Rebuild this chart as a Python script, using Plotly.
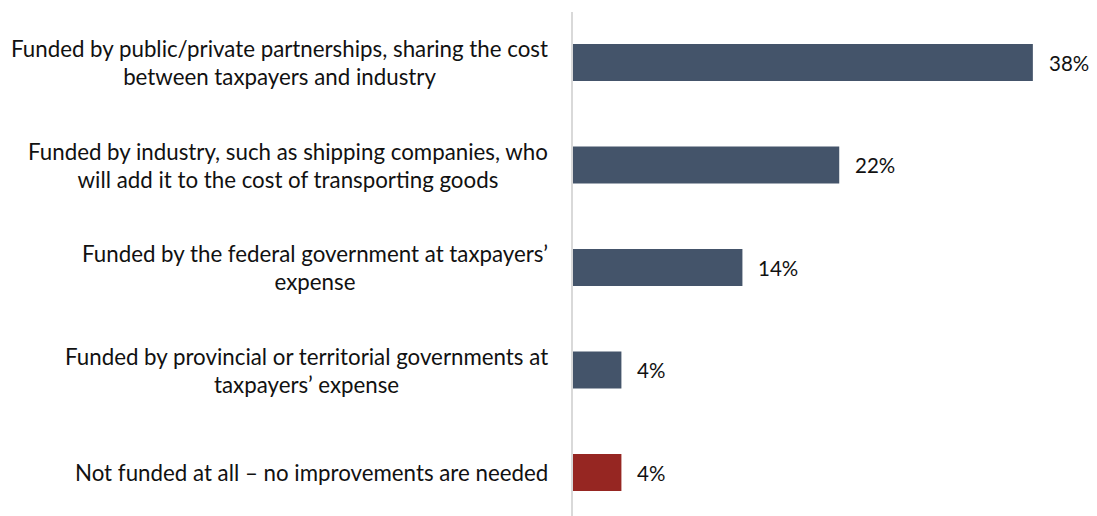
import plotly.graph_objects as go

# Survey options (top to bottom) and share of respondents (%)
categories = [
    "Funded by public/private partnerships, sharing the cost<br>between taxpayers and industry",
    "Funded by industry, such as shipping companies, who<br>will add it to the cost of transporting goods",
    "Funded by the federal government at taxpayers’<br>expense",
    "Funded by provincial or territorial governments at<br>taxpayers’ expense",
    "Not funded at all – no improvements are needed",
]
values = [38, 22, 14, 4, 4]
bar_colors = ["#44546a", "#44546a", "#44546a", "#44546a", "#962622"]

FONT = "Lato"
TEXT_COLOR = "#111111"
LABEL_PX = 22.3
VALUE_PX = 20.5
positions = list(range(len(categories)))

fig = go.Figure(
    go.Bar(
        x=values,
        y=positions,
        orientation="h",
        marker=dict(color=bar_colors, line=dict(width=0)),
        width=0.36,
        hoverinfo="skip",
    )
)

# Category labels: centred lines, right edge just left of the axis
for pos, label in zip(positions, categories):
    fig.add_annotation(
        x=0, y=pos, xref="x", yref="y",
        text=f'<span style="font-size:{LABEL_PX}px">{label}</span>',
        showarrow=False, xanchor="right", yanchor="middle",
        align="center", xshift=-23,
        font=dict(family=FONT, size=21.5, color=TEXT_COLOR),
    )

# Value labels next to each bar
for pos, val in zip(positions, values):
    fig.add_annotation(
        x=val, y=pos, xref="x", yref="y",
        text=f"{val}%",
        showarrow=False, xanchor="left", yanchor="middle",
        xshift=14,
        font=dict(family=FONT, size=VALUE_PX, color=TEXT_COLOR),
    )

fig.update_layout(
    width=1097, height=516,
    margin=dict(l=573, r=0, t=12, b=0),
    paper_bgcolor="white", plot_bgcolor="white",
    showlegend=False,
    font=dict(family=FONT, size=LABEL_PX, color=TEXT_COLOR),
    xaxis=dict(range=[0, 43.3], visible=False, fixedrange=True),
    yaxis=dict(
        range=[4.424, -0.493],
        showticklabels=False, showgrid=False, zeroline=False, ticks="",
        showline=True, linecolor="#d9d9d9", linewidth=2,
        fixedrange=True,
    ),
)

fig.write_html("out.html")
